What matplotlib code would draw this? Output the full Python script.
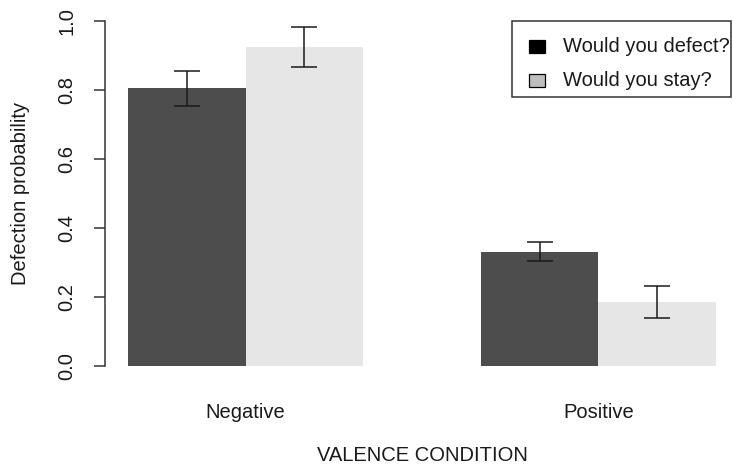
import matplotlib
matplotlib.use("Agg")
import matplotlib.pyplot as plt
from matplotlib.patches import Rectangle
import numpy as np

plt.rcParams['font.family'] = ['Liberation Sans', 'DejaVu Sans']

# ---- data ----
conditions = ["Negative", "Positive"]
series = ["Would you defect?", "Would you stay?"]
defect_mean = [0.805, 0.331]
stay_mean = [0.925, 0.185]
defect_se = [0.050, 0.028]
stay_se = [0.057, 0.046]
yticks = [0.0, 0.2, 0.4, 0.6, 0.8, 1.0]
ytick_labels = ["0.0", "0.2", "0.4", "0.6", "0.8", "1.0"]

bar_colors = ["#4D4D4D", "#E6E6E6"]
legend_colors = ["#000000", "#BEBEBE"]

W, H = 733, 469
fig = plt.figure(figsize=(W / 100, H / 100), dpi=100)

# plot region in pixels (R-like layout)
px_left, px_right = 104.5, 739.5
px_top, px_bottom = 7.2, 379.8
ax = fig.add_axes([px_left / W, 1 - px_bottom / H,
                   (px_right - px_left) / W, (px_bottom - px_top) / H])

# R barplot beside=TRUE positions: width 1, space c(0,1)
group_starts = np.array([1.0, 4.0])
x_def = group_starts + 0.5
x_stay = group_starts + 1.5

ax.bar(x_def, defect_mean, width=1.0, color=bar_colors[0], edgecolor="none")
ax.bar(x_stay, stay_mean, width=1.0, color=bar_colors[1], edgecolor="none")

err_kw = dict(fmt="none", ecolor="#1a1a1a", elinewidth=1.1, capsize=9.4, capthick=1.1)
ax.errorbar(x_def, defect_mean, yerr=defect_se, **err_kw)
ax.errorbar(x_stay, stay_mean, yerr=stay_se, **err_kw)

ax.set_xlim(0.8, 6.2)
ax.set_ylim(-0.04, 1.04)

for s in ["top", "right", "bottom"]:
    ax.spines[s].set_visible(False)
ax.spines["left"].set_bounds(0, 1)
ax.spines["left"].set_color("#333333")
ax.spines["left"].set_linewidth(1.1)

ax.set_yticks(yticks)
ax.set_yticklabels(ytick_labels, rotation=90, va="center", ha="right", fontsize=14.5)
ax.tick_params(axis="y", length=8, width=1.1, color="#333333", pad=12, labelcolor="#1a1a1a")

ax.set_xticks(group_starts + 1.0)
ax.set_xticklabels(conditions, fontsize=14.5, color="#1a1a1a")
ax.tick_params(axis="x", length=0, pad=17)

ax.set_xlabel("VALENCE CONDITION", fontsize=14.5, color="#1a1a1a", va="center")
ax.xaxis.set_label_coords(0.5, (px_bottom - 455) / (px_bottom - px_top))
ax.set_ylabel("Defection probability", fontsize=14.5, color="#1a1a1a", va="center")
ax.yaxis.set_label_coords((20 - px_left) / (px_right - px_left), 0.5)

# ---- legend (drawn in pixel coordinates on an overlay) ----
ov = fig.add_axes([0, 0, 1, 1], facecolor="none")
ov.set_xlim(0, W)
ov.set_ylim(H, 0)
ov.axis("off")
ov.add_patch(Rectangle((512, 21.5), 218.5, 75.5, facecolor="white",
                       edgecolor="#333333", linewidth=1.1))
rows_y = [47, 81]
for yc, col, lab in zip(rows_y, legend_colors, series):
    ov.add_patch(Rectangle((529, yc - 6.5), 16, 13, facecolor=col,
                           edgecolor="#000000", linewidth=0.9))
    ov.text(563, yc, lab, fontsize=14.5, va="center", ha="left", color="#1a1a1a")

fig.savefig("out.png", dpi=100)
